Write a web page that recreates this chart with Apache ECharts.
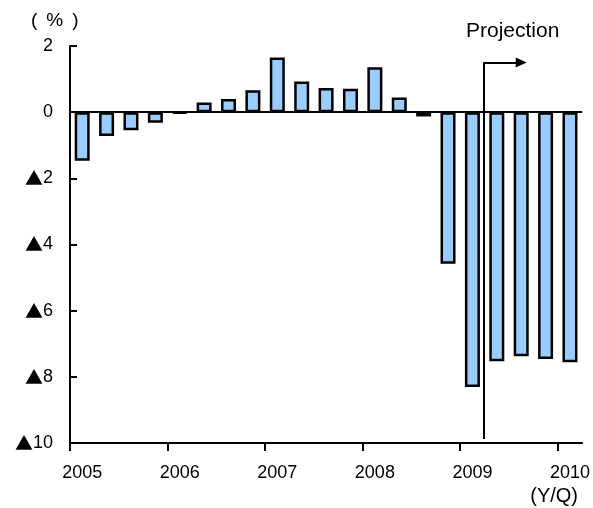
<!DOCTYPE html>
<html>
<head>
<meta charset="utf-8">
<script src="https://cdn.jsdelivr.net/npm/echarts@6/dist/echarts.min.js"></script>
<style>
  html, body { margin: 0; padding: 0; background: #fff; }
  #chart { width: 593px; height: 508px; }
</style>
</head>
<body>
<div id="chart"></div>
<script>
// Quarterly growth rate (%), 2005Q1 – 2010Q1; from 2009Q2 onward are projections
const quarters = [
  '2005Q1', '2005Q2', '2005Q3', '2005Q4',
  '2006Q1', '2006Q2', '2006Q3', '2006Q4',
  '2007Q1', '2007Q2', '2007Q3', '2007Q4',
  '2008Q1', '2008Q2', '2008Q3', '2008Q4',
  '2009Q1', '2009Q2', '2009Q3', '2009Q4',
  '2010Q1'
];
const growth = [
  -1.47, -0.72, -0.55, -0.32,
  -0.03, 0.29, 0.40, 0.66,
  1.65, 0.93, 0.73, 0.71,
  1.36, 0.44, -0.13, -4.58,
  -8.31, -7.53, -7.38, -7.46,
  -7.56
];
const yearLabels = ['2005', '2006', '2007', '2008', '2009', '2010'];
const projectionStart = 16.95;   // boundary before 2009Q2

const FONT = "'Liberation Sans', Arial, sans-serif";
const CJK = "'Noto Sans CJK JP', sans-serif";

// each bar sits at the centre of its quarter slot on a 0..N value axis
const barData = growth.map((v, i) => [i + 0.5, v]);
const yearTicks = yearLabels.map((_, k) => k * 4);
const yearLabelPos = yearLabels.map((_, k) => k * 4 + 0.5);

const chart = echarts.init(document.getElementById('chart'), null, { renderer: 'canvas' });

chart.setOption({
  animation: false,
  backgroundColor: '#ffffff',
  textStyle: { fontFamily: FONT },
  grid: { left: 70, right: 10, top: 46, bottom: 65, containLabel: false },
  xAxis: {
    type: 'value',
    min: 0,
    max: quarters.length,
    interval: 4,
    axisLine: { show: true, onZero: false, lineStyle: { color: '#000', width: 2 } },
    axisTick: {
      show: true, inside: false, length: 8,
      customValues: yearTicks,
      lineStyle: { color: '#000', width: 2 }
    },
    axisLabel: {
      show: true, margin: 21,
      customValues: yearLabelPos,
      color: '#000', fontSize: 18, fontFamily: FONT,
      formatter: v => yearLabels[Math.round((v - 0.5) / 4)] || ''
    },
    splitLine: { show: false }
  },
  yAxis: {
    type: 'value',
    min: -10,
    max: 2,
    interval: 2,
    axisLine: { show: true, onZero: false, lineStyle: { color: '#000', width: 2 } },
    axisTick: { show: true, inside: true, length: 7, lineStyle: { color: '#000', width: 2 } },
    axisLabel: {
      margin: 17,
      color: '#000', fontSize: 18, fontFamily: FONT,
      formatter: v => (v < 0 ? '{tri|▲}' + (-v) : String(v)),
      rich: {
        tri: { fontFamily: CJK, fontSize: 18, color: '#000' }
      }
    },
    splitLine: { show: false }
  },
  series: [{
    type: 'bar',
    data: barData,
    barWidth: 15,
    itemStyle: { color: '#99ccff', borderColor: '#000', borderWidth: 2.5 },
    markLine: {
      silent: true,
      animation: false,
      symbol: 'none',
      label: { show: false },
      lineStyle: { color: '#000', width: 2, type: 'solid' },
      emphasis: { disabled: true },
      data: [
        { yAxis: 0 },
        [
          { coord: [projectionStart, -9.88], symbol: 'none' },
          { coord: [projectionStart, 1.5], symbol: 'none' }
        ],
        [
          { coord: [projectionStart, 1.5], symbol: 'none' },
          { coord: [projectionStart + 1.55, 1.5], symbol: 'triangle', symbolSize: [10, 11], symbolRotate: -90 }
        ]
      ]
    }
  }],
  graphic: [
    {
      type: 'text', left: 466, top: 21,
      style: { text: 'Projection', fill: '#000', fontSize: 21, fontFamily: FONT }
    },
    {
      type: 'text', left: 31, top: 11,
      style: {
        text: '{p|(}{q|%}{p|)}',
        fill: '#000', fontSize: 19, fontFamily: FONT,
        rich: {
          p: { fontSize: 19, fontFamily: FONT },
          q: { fontSize: 19, fontFamily: FONT, padding: [0, 9, 0, 9] }
        }
      }
    },
    {
      type: 'text', right: 15, top: 486,
      style: { text: '(Y/Q)', fill: '#000', fontSize: 20, fontFamily: FONT }
    }
  ]
});
</script>
</body>
</html>
